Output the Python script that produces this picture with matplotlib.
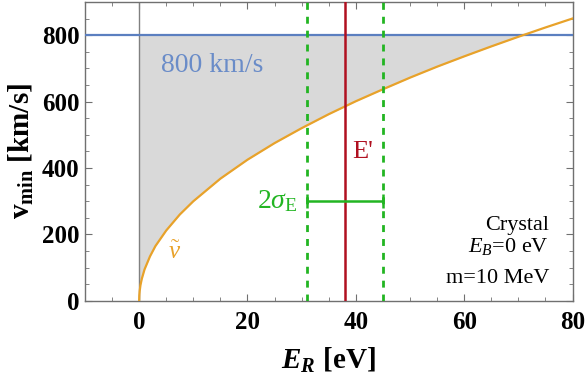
import matplotlib
matplotlib.use("Agg")
import matplotlib.pyplot as plt
import numpy as np
from matplotlib.ticker import MultipleLocator

plt.rcParams['font.family'] = ['Liberation Serif', 'DejaVu Serif']
plt.rcParams['mathtext.fontset'] = 'custom'
plt.rcParams['mathtext.rm'] = 'Liberation Serif'
plt.rcParams['mathtext.it'] = 'Liberation Serif:italic'
plt.rcParams['mathtext.bf'] = 'Liberation Serif:bold'
plt.rcParams['mathtext.bfit'] = 'Liberation Serif:bold:italic'

# data
E_R = [0, 0.03, 0.1, 0.25, 0.5, 1, 2, 3, 5, 7.5, 10, 15, 20, 25, 30, 35, 40, 45, 50, 55, 60, 65, 70, 75, 80]
v_tilde = [0, 16, 30, 48, 67, 95, 134, 165, 212, 260, 300, 368, 425, 475, 520, 562, 601, 637, 672, 705, 736, 766, 795, 823, 850]
v_max = 800
E_prime = 38
E_sigma_lo = 31
E_sigma_hi = 45
bar_y = 300

fig = plt.figure(figsize=(5.86, 3.79), dpi=100)
ax = fig.add_axes([0.145, 0.206, 0.832, 0.789])

E = np.array(E_R, dtype=float)
v = np.array(v_tilde, dtype=float)

ax.fill_between(E, v, v_max, where=v <= v_max, interpolate=True, color='#d9d9d9', lw=0, zorder=1)
ax.axvline(0, color='#808080', lw=1.0, zorder=2)
ax.axhline(v_max, color='#5b7fc0', lw=1.6, zorder=3)
ax.plot(E, v, color='#e8a22a', lw=1.6, zorder=4)
ax.axvline(E_sigma_lo, color='#22b522', lw=2.0, ls=(0, (2.5, 2.5)), zorder=5)
ax.axvline(E_sigma_hi, color='#22b522', lw=2.0, ls=(0, (2.5, 2.5)), zorder=5)
ax.axvline(E_prime, color='#b01020', lw=1.8, zorder=6)
ax.errorbar([(E_sigma_lo + E_sigma_hi) / 2], [bar_y], xerr=[(E_sigma_hi - E_sigma_lo) / 2],
            color='#22b522', lw=1.8, capsize=5, capthick=1.8, zorder=7)

ax.set_xlim(-10, 80)
ax.set_ylim(0, 900)
ax.xaxis.set_major_locator(MultipleLocator(20))
ax.xaxis.set_minor_locator(MultipleLocator(5))
ax.yaxis.set_major_locator(MultipleLocator(200))
ax.yaxis.set_minor_locator(MultipleLocator(50))
ax.tick_params(which='both', direction='in', top=True, right=True, color='#707070')
ax.tick_params(which='major', length=5, labelsize=18)
ax.tick_params(axis='y', which='major', pad=4)
ax.tick_params(axis='x', which='major', pad=7)
ax.tick_params(which='minor', length=3)
for lab in ax.get_xticklabels() + ax.get_yticklabels():
    lab.set_fontweight('bold')
for s in ax.spines.values():
    s.set_color('#707070')
    s.set_linewidth(1.0)

ax.set_xlabel(r'$\mathbfit{E}_{\mathbfit{R}}$ [eV]', fontsize=21, fontweight='bold', labelpad=9)
ax.set_ylabel(r'$\mathbf{v_{min}}$ [km/s]', fontsize=21, fontweight='bold', labelpad=4)

ax.text(4, 690, '800 km/s', color='#6a8cc8', fontsize=20, va='baseline', ha='left')
ax.text(39.3, 430, "E'", color='#b01020', fontsize=19, va='baseline', ha='left')
ax.text(29.3, 300, r'2$\sigma_{\mathrm{E}}$', color='#22b522', fontsize=20, va='center', ha='right')
ax.text(5.3, 144, r'$\tilde{v}$', color='#e8a22a', fontsize=18, va='center', ha='left')
ax.text(75.7, 213, 'Crystal', fontsize=16, va='baseline', ha='right')
ax.text(75.7, 148, r'$E_B$=0 eV', fontsize=16, va='baseline', ha='right')
ax.text(75.7, 53, 'm=10 MeV', fontsize=16, va='baseline', ha='right')

fig.savefig('out.png', dpi=100)
